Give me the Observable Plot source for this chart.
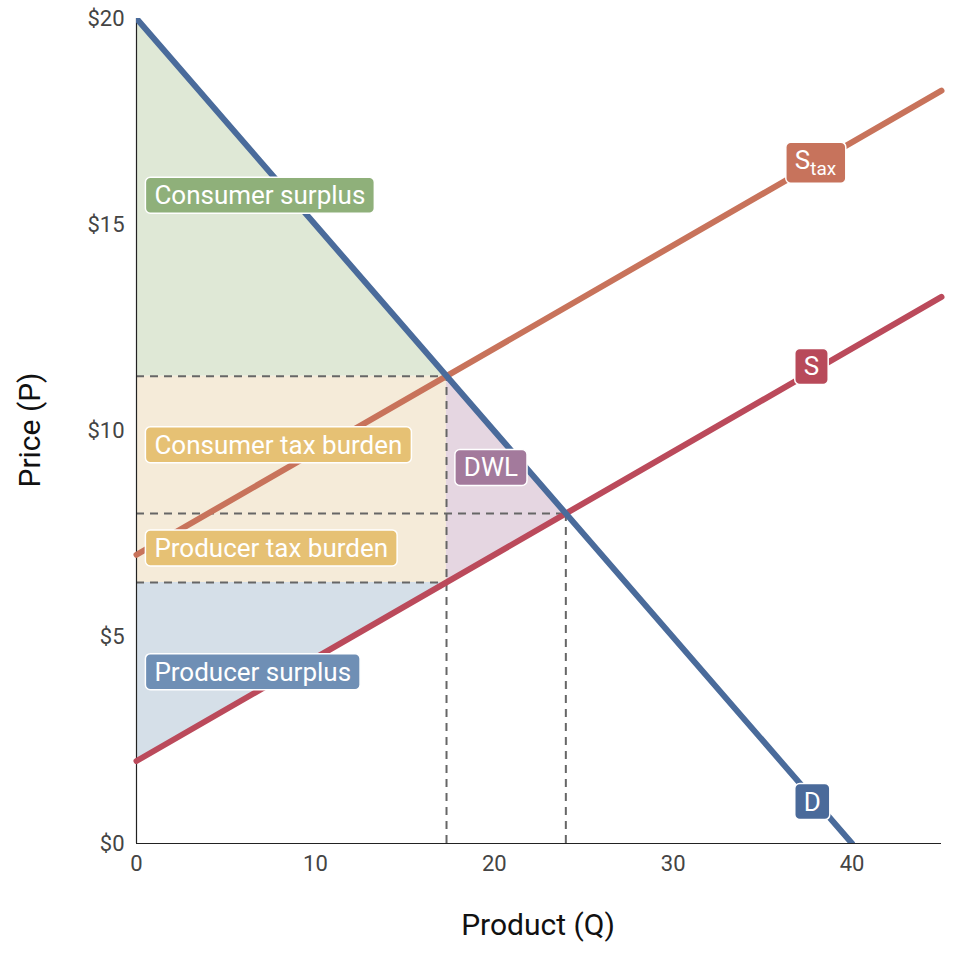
<!DOCTYPE html>
<html><head><meta charset="utf-8">
<script src="https://cdn.jsdelivr.net/npm/d3@7"></script>
<script src="https://cdn.jsdelivr.net/npm/@observablehq/plot@0.6"></script>
<style>body{margin:0;background:#fff}</style>
</head><body><div id="chart"></div>
<script>
// lines (quantity endpoints and prices)
const demandQ = [0, 40], demandP = [20, 0];
const supplyQ = [0, 45], supplyP = [2, 13.25];
const taxQ = [0, 45], taxP = [7, 18.25];
const qTax = 17.33, pBuyer = 11.33, pSeller = 6.33, qEq = 24, pEq = 8;
const xTicks = [0, 10, 20, 30, 40];
const yTicks = [0, 5, 10, 15, 20];
const labelNames = ["Consumer surplus", "Consumer tax burden", "Producer tax burden", "Producer surplus", "DWL", "Stax", "S", "D"];
const labelQ = [1, 1, 1, 1, 18.3, 36.8, 37.3, 37.3];
const labelP = [15.7, 9.65, 7.15, 4.15, 9.1, 16.55, 11.55, 1];
const labelFill = ["#8fb07a", "#e6c174", "#e6c174", "#6f8fb5", "#a37a9c", "#c7735c", "#b84a5a", "#4a6a9a"];

const line = (qs, ps) => qs.map((q, i) => ({q, p: ps[i]}));
const dem = q => 20 - 0.5 * q, sup = q => 2 + 0.25 * q;
const cs = [0, qTax].map(q => ({q, y1: pBuyer, y2: dem(q)}));
const tb = [0, qTax].map(q => ({q, y1: pSeller, y2: pBuyer}));
const ps = [0, qTax].map(q => ({q, y1: sup(q), y2: pSeller}));
const dwl = [qTax, qEq].map(q => ({q, y1: sup(q), y2: dem(q)}));
const labels = labelNames.map((t, i) => ({t, q: labelQ[i], p: labelP[i]}));

const chart = Plot.plot({
  width: 960, height: 960,
  marginLeft: 136, marginRight: 19, marginTop: 18, marginBottom: 117,
  style: {fontFamily: "Roboto", fontSize: "22px", color: "#444"},
  x: {domain: [0, 45], ticks: xTicks, tickSize: 0, tickPadding: 12, label: null},
  y: {domain: [0, 20], ticks: yTicks, tickSize: 0, tickPadding: 12, tickFormat: d => "$" + d, label: null},
  marks: [
    Plot.areaY(cs, {x: "q", y1: "y1", y2: "y2", fill: "#dfe8d6"}),
    Plot.areaY(tb, {x: "q", y1: "y1", y2: "y2", fill: "#f5ebd9"}),
    Plot.areaY(ps, {x: "q", y1: "y1", y2: "y2", fill: "#d5dfe8"}),
    Plot.areaY(dwl, {x: "q", y1: "y1", y2: "y2", fill: "#e5d6e1"}),
    Plot.ruleY([pBuyer, pSeller], {x1: 0, x2: qTax, stroke: "#666", strokeWidth: 2, strokeDasharray: "8,6"}),
    Plot.ruleY([pEq], {x1: 0, x2: qEq, stroke: "#666", strokeWidth: 2, strokeDasharray: "8,6"}),
    Plot.ruleX([qTax], {y1: 0, y2: pBuyer, stroke: "#666", strokeWidth: 2, strokeDasharray: "8,6"}),
    Plot.ruleX([qEq], {y1: 0, y2: pEq, stroke: "#666", strokeWidth: 2, strokeDasharray: "8,6"}),
    Plot.ruleX([0], {stroke: "#222", strokeWidth: 1.2}),
    Plot.ruleY([0], {stroke: "#222", strokeWidth: 1.2}),
    Plot.line(line(taxQ, taxP), {x: "q", y: "p", stroke: "#c8735b", strokeWidth: 6}),
    Plot.line(line(supplyQ, supplyP), {x: "q", y: "p", stroke: "#bb4a5b", strokeWidth: 6}),
    Plot.line(line(demandQ, demandP), {x: "q", y: "p", stroke: "#4a6b9b", strokeWidth: 6, clip: true}),
    Plot.text(labels, {x: "q", y: "p", text: "t", textAnchor: "start", fill: "white", fontSize: 26, className: "lbl"})
  ]
});
d3.select("#chart").append(() => chart);
const svg = d3.select(chart);
svg.append("text").attr("x", 538).attr("y", 935).attr("text-anchor", "middle")
  .attr("font-size", 30).attr("fill", "#111").text("Product (Q)");
svg.append("text").attr("transform", "translate(40,430) rotate(-90)").attr("text-anchor", "middle")
  .attr("font-size", 30).attr("fill", "#111").text("Price (P)");

svg.selectAll("g.lbl text").each(function(_, i) {
  const t = d3.select(this);
  if (labelNames[i] === "Stax") {
    t.text("S");
    t.append("tspan").attr("font-size", 19).attr("dy", 6).text("tax");
  }
  const b = this.getBBox();
  d3.select(this.parentNode).insert("rect", () => this)
    .attr("x", b.x - 9).attr("y", b.y - 3).attr("width", b.width + 18).attr("height", b.height + 6)
    .attr("rx", 5).attr("fill", labelFill[i]).attr("stroke", "white").attr("stroke-width", 1.5)
    .attr("transform", t.attr("transform"));
});
</script></body></html>
